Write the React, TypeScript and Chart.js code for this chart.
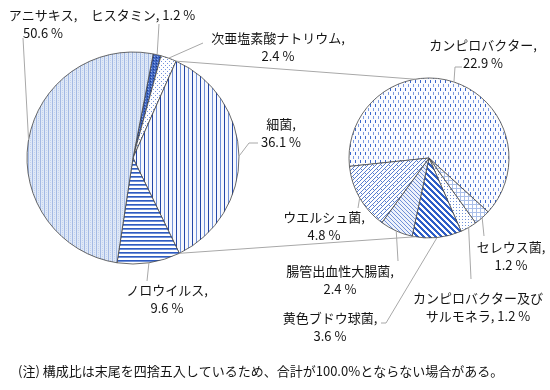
import React, { useEffect, useRef } from "react";
import { Chart, registerables } from "chart.js";

Chart.register(...registerables);

// ---- data ----
const mainCategories = ["ヒスタミン", "次亜塩素酸ナトリウム", "細菌", "ノロウイルス", "アニサキス"];
const mainValues = [1.2, 2.4, 36.1, 9.6, 50.6];
const subCategories = [
  "カンピロバクター",
  "セレウス菌",
  "カンピロバクター及びサルモネラ",
  "黄色ブドウ球菌",
  "腸管出血性大腸菌",
  "ウエルシュ菌",
];
const subValues = [22.9, 1.2, 1.2, 3.6, 2.4, 4.8];
const noteText = "(注) 構成比は末尾を四捨五入しているため、合計が100.0%とならない場合がある。";

// ---- layout ----
const W = 550;
const H = 390;
const FONT = "13px 'Noto Sans CJK JP', 'Noto Sans', sans-serif";
const TEXT_COLOR = "#141414";
const LINE_COLOR = "#a8a8a8";
const LINE_H = 18;

type Pt = [number, number];
type LabelSpec = { mode: "two" | "one" | "break"; breakAt?: number; x: number; y: number; leader: Pt[] };

const mainLayout: LabelSpec[] = [
  { mode: "one", x: 143, y: 15, leader: [[159, 24]] },
  { mode: "two", x: 278, y: 38, leader: [[203, 43]] },
  { mode: "two", x: 281, y: 124, leader: [[258, 143], [249, 143]] },
  { mode: "two", x: 167, y: 290, leader: [[147, 281]] },
  { mode: "two", x: 43, y: 15, leader: [[23, 38]] },
];
const subLayout: LabelSpec[] = [
  { mode: "two", x: 483, y: 45, leader: [[462, 67], [455, 67]] },
  { mode: "two", x: 511, y: 247, leader: [[484, 236]] },
  { mode: "break", breakAt: 10, x: 478, y: 298, leader: [[471, 279]] },
  { mode: "two", x: 330, y: 318, leader: [[381, 323], [386, 323]] },
  { mode: "two", x: 340, y: 271, leader: [[398, 261]] },
  { mode: "two", x: 324, y: 217, leader: [[358, 208]] },
];

function labelLines(name: string, v: number, spec: LabelSpec): string[] {
  const val = `${v.toFixed(1)} %`;
  if (spec.mode === "one") return [`${name}, ${val}`];
  if (spec.mode === "break") {
    const b = spec.breakAt || 0;
    return [name.slice(0, b), `${name.slice(b)}, ${val}`];
  }
  return [`${name},`, val];
}

// ---- patterns ----
function makePattern(w: number, h: number, bg: string, pix: (x: number, y: number) => string | null) {
  const c = document.createElement("canvas");
  c.width = w;
  c.height = h;
  const g = c.getContext("2d")!;
  g.fillStyle = bg;
  g.fillRect(0, 0, w, h);
  for (let y = 0; y < h; y++) {
    for (let x = 0; x < w; x++) {
      const col = pix(x, y);
      if (col) {
        g.fillStyle = col;
        g.fillRect(x, y, 1, 1);
      }
    }
  }
  return g.createPattern(c, "repeat")!;
}

function mainPatterns() {
  return [
    // ヒスタミン
    makePattern(3, 3, "#4268c2", (x, y) => (x === 0 && y === 0 ? "#1c3b8c" : x === 1 && y === 2 ? "#8eaae6" : null)),
    // 次亜塩素酸ナトリウム
    makePattern(4, 4, "#ffffff", (x, y) => ((x === 1 && y === 1) || (x === 3 && y === 3) ? "#7594dc" : null)),
    // 細菌
    makePattern(8, 1, "#f6f8fd", (x) => (x === 0 ? "#2447a8" : x === 4 ? "#7090d8" : null)),
    // ノロウイルス
    makePattern(1, 4, "#ffffff", (_x, y) => (y === 0 ? "#2f5bc0" : y === 1 ? "#7090d8" : null)),
    // アニサキス
    makePattern(4, 4, "#dfe8f6", (x, y) => (x === 0 ? "#a3b9e4" : x === 2 && y % 2 === 0 ? "#c3d2ef" : null)),
  ];
}

function subPatterns() {
  return [
    // カンピロバクター
    makePattern(5, 8, "#fbfcff", (x, y) => (x === 0 && y < 3 ? "#3a66cc" : x === 3 && y >= 4 && y < 7 ? "#7d9be0" : null)),
    // セレウス菌
    makePattern(4, 4, "#ffffff", (x, y) => (x === 0 || y === 0 ? "#aabfe9" : null)),
    // カンピロバクター及びサルモネラ
    makePattern(3, 3, "#ffffff", (x, y) => (x === 0 && y === 0 ? "#7090d8" : null)),
    // 黄色ブドウ球菌
    makePattern(6, 6, "#ffffff", (x, y) => ((((x - y) % 6) + 6) % 6 < 3 ? "#2f5fc8" : null)),
    // 腸管出血性大腸菌
    makePattern(4, 4, "#eef2fb", (x, y) => ((((x - y) % 4) + 4) % 4 === 0 ? "#7090d8" : null)),
    // ウエルシュ菌
    makePattern(8, 8, "#ffffff", (x, y) =>
      (x + y) % 4 === 0 || ((((x - y) % 8) + 8) % 8 === 0 && (x + y) % 8 < 4) ? "#5a7fd0" : null
    ),
  ];
}

// ---- helpers ----
function arcMid(chart: Chart, i: number): Pt {
  const el: any = chart.getDatasetMeta(0).data[i];
  const p = el.getProps(["x", "y", "startAngle", "endAngle", "outerRadius"], true);
  const a = (p.startAngle + p.endAngle) / 2;
  return [p.x + p.outerRadius * Math.cos(a), p.y + p.outerRadius * Math.sin(a)];
}

function arcEdge(chart: Chart, i: number, which: "start" | "end"): Pt {
  const el: any = chart.getDatasetMeta(0).data[i];
  const p = el.getProps(["x", "y", "startAngle", "endAngle", "outerRadius"], true);
  const a = which === "start" ? p.startAngle : p.endAngle;
  return [p.x + p.outerRadius * Math.cos(a), p.y + p.outerRadius * Math.sin(a)];
}

function drawLabels(chart: Chart, names: string[], values: number[], layout: LabelSpec[]) {
  const ctx = chart.ctx;
  ctx.save();
  ctx.strokeStyle = LINE_COLOR;
  ctx.lineWidth = 1;
  layout.forEach((spec, i) => {
    const end = arcMid(chart, i);
    const pts = [...spec.leader, end];
    ctx.beginPath();
    ctx.moveTo(pts[0][0], pts[0][1]);
    for (let k = 1; k < pts.length; k++) ctx.lineTo(pts[k][0], pts[k][1]);
    ctx.stroke();
  });
  ctx.font = FONT;
  ctx.fillStyle = TEXT_COLOR;
  ctx.textAlign = "center";
  ctx.textBaseline = "middle";
  layout.forEach((spec, i) => {
    const lines = labelLines(names[i], values[i], spec);
    lines.forEach((t, k) => ctx.fillText(t, spec.x, spec.y + k * LINE_H));
  });
  ctx.restore();
}

function padFor(cx: number, cy: number, r: number, bw: number) {
  const h = r + bw / 2;
  return { left: cx - h, right: W - (cx + h), top: cy - h, bottom: H - (cy + h) };
}

export default function App() {
  const leftRef = useRef<HTMLCanvasElement>(null);
  const rightRef = useRef<HTMLCanvasElement>(null);

  useEffect(() => {
    const bw = 0.8;
    const leftPlugin = {
      id: "leftLabels",
      afterDraw(chart: Chart) {
        drawLabels(chart, mainCategories, mainValues, mainLayout);
        const ctx = chart.ctx;
        ctx.save();
        ctx.font = FONT;
        ctx.fillStyle = TEXT_COLOR;
        ctx.textAlign = "left";
        ctx.textBaseline = "middle";
        ctx.fillText(noteText, 18, 371);
        ctx.restore();
      },
    };
    const left = new Chart(leftRef.current!, {
      type: "pie",
      data: {
        labels: mainCategories,
        datasets: [
          {
            data: mainValues,
            backgroundColor: mainPatterns() as any,
            borderColor: "#454545",
            borderWidth: bw,
            hoverOffset: 0,
          },
        ],
      },
      options: {
        responsive: false,
        animation: false,
        devicePixelRatio: 1,
        events: [],
        rotation: 11,
        layout: { padding: padFor(133, 158, 106, bw) },
        plugins: { legend: { display: false }, tooltip: { enabled: false } },
      },
      plugins: [leftPlugin],
    });

    const bacteriaIndex = mainCategories.indexOf("細菌");
    const rightPlugin = {
      id: "rightLabels",
      afterDraw(chart: Chart) {
        drawLabels(chart, subCategories, subValues, subLayout);
        // connector lines from the bacteria slice to the secondary pie
        const el: any = chart.getDatasetMeta(0).data[0];
        const p = el.getProps(["x", "y", "outerRadius"], true);
        const s = arcEdge(left, bacteriaIndex, "start");
        const e = arcEdge(left, bacteriaIndex, "end");
        const tilt = (10 * Math.PI) / 180;
        const topPt: Pt = [p.x - p.outerRadius * Math.sin(tilt), p.y - p.outerRadius * Math.cos(tilt)];
        const botPt: Pt = [p.x - p.outerRadius * Math.sin(tilt), p.y + p.outerRadius * Math.cos(tilt)];
        const ctx = chart.ctx;
        ctx.save();
        ctx.strokeStyle = LINE_COLOR;
        ctx.lineWidth = 1;
        ctx.beginPath();
        ctx.moveTo(s[0], s[1]);
        ctx.lineTo(topPt[0], topPt[1]);
        ctx.moveTo(e[0], e[1]);
        ctx.lineTo(botPt[0], botPt[1]);
        ctx.stroke();
        ctx.restore();
      },
    };
    const right = new Chart(rightRef.current!, {
      type: "pie",
      data: {
        labels: subCategories,
        datasets: [
          {
            data: subValues,
            backgroundColor: subPatterns() as any,
            borderColor: "#454545",
            borderWidth: bw,
            hoverOffset: 0,
          },
        ],
      },
      options: {
        responsive: false,
        animation: false,
        devicePixelRatio: 1,
        events: [],
        rotation: 264,
        layout: { padding: padFor(429, 158, 80, bw) },
        plugins: { legend: { display: false }, tooltip: { enabled: false } },
      },
      plugins: [rightPlugin],
    });

    return () => {
      right.destroy();
      left.destroy();
    };
  }, []);

  const cstyle: React.CSSProperties = { position: "absolute", left: 0, top: 0, width: W, height: H };
  return (
    <div style={{ position: "fixed", left: 0, top: 0, width: W, height: H, background: "#ffffff" }}>
      <canvas ref={leftRef} width={W} height={H} style={cstyle} />
      <canvas ref={rightRef} width={W} height={H} style={cstyle} />
    </div>
  );
}
